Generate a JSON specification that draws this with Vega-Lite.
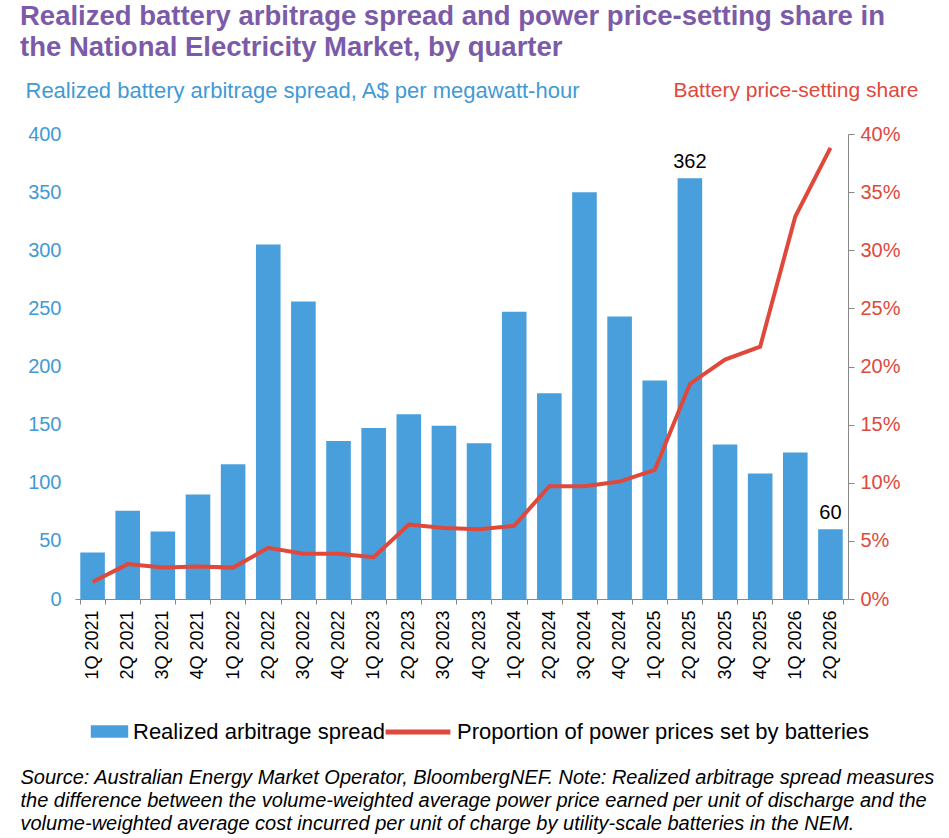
{
  "$schema": "https://vega.github.io/schema/vega-lite/v6.json",
  "width": 773,
  "height": 465,
  "padding": {"left": 20, "top": 2, "right": 10, "bottom": 0},
  "config": {
    "font": "Liberation Sans",
    "view": {"stroke": null},
    "axis": {"grid": false, "domain": false, "ticks": false}
  },
  "title": {
    "text": ["Realized battery arbitrage spread and power price-setting share in", "the National Electricity Market, by quarter"],
    "anchor": "start",
    "frame": "group",
    "dx": -55,
    "offset": 18,
    "fontSize": 27.5,
    "fontWeight": "bold",
    "color": "#7B5BA8",
    "lineHeight": 31
  },
  "data": {
    "values": [
      {"q": "1Q 2021", "spread": 40, "share": 0.0146},
      {"q": "2Q 2021", "spread": 76, "share": 0.030},
      {"q": "3Q 2021", "spread": 58, "share": 0.027},
      {"q": "4Q 2021", "spread": 90, "share": 0.028},
      {"q": "1Q 2022", "spread": 116, "share": 0.027},
      {"q": "2Q 2022", "spread": 305, "share": 0.044},
      {"q": "3Q 2022", "spread": 256, "share": 0.039},
      {"q": "4Q 2022", "spread": 136, "share": 0.039},
      {"q": "1Q 2023", "spread": 147, "share": 0.036},
      {"q": "2Q 2023", "spread": 159, "share": 0.064},
      {"q": "3Q 2023", "spread": 149, "share": 0.061},
      {"q": "4Q 2023", "spread": 134, "share": 0.060},
      {"q": "1Q 2024", "spread": 247, "share": 0.063},
      {"q": "2Q 2024", "spread": 177, "share": 0.097},
      {"q": "3Q 2024", "spread": 350, "share": 0.097},
      {"q": "4Q 2024", "spread": 243, "share": 0.101},
      {"q": "1Q 2025", "spread": 188, "share": 0.111},
      {"q": "2Q 2025", "spread": 362, "share": 0.185, "label": "362"},
      {"q": "3Q 2025", "spread": 133, "share": 0.206},
      {"q": "4Q 2025", "spread": 108, "share": 0.217},
      {"q": "1Q 2026", "spread": 126, "share": 0.329},
      {"q": "2Q 2026", "spread": 60, "share": 0.388, "label": "60"}
    ]
  },
  "encoding": {
    "x": {
      "field": "q", "type": "nominal", "sort": null,
      "scale": {"paddingInner": 0.3, "paddingOuter": 0.15},
      "axis": {
        "domain": true, "domainColor": "#888", "ticks": true, "tickColor": "#888", "tickBand": "extent",
        "labelAngle": -90, "labelFontSize": 18, "labelColor": "#000", "labelPadding": 6,
        "title": ["Source: Australian Energy Market Operator, BloombergNEF. Note: Realized arbitrage spread measures", "the difference between the volume-weighted average power price earned per unit of discharge and the", "volume-weighted average cost incurred per unit of charge by utility-scale batteries in the NEM."],
        "titleFontSize": 20, "titleFontStyle": "italic", "titleFontWeight": "normal", "titleColor": "#000",
        "titleAnchor": "start", "titleAlign": "left", "titleX": -55, "titleLineHeight": 23, "titlePadding": 88
      }
    }
  },
  "layer": [
    {
      "mark": {"type": "bar", "color": "#489FDB"},
      "encoding": {
        "y": {
          "field": "spread", "type": "quantitative",
          "scale": {"domain": [0, 400]},
          "axis": {
            "values": [0, 50, 100, 150, 200, 250, 300, 350, 400],
            "labelFontSize": 20, "labelColor": "#3F9AD6", "labelPadding": 14,
            "title": "Realized battery arbitrage spread, A$ per megawatt-hour",
            "titleAngle": 0, "titleAlign": "left", "titleBaseline": "middle", "titleX": -50, "titleY": -44,
            "titleFontSize": 22, "titleFontWeight": "normal", "titleColor": "#3F9AD6"
          }
        },
        "color": {
          "datum": "Realized arbitrage spread",
          "scale": {"range": ["#489FDB"]},
          "legend": {
            "title": null, "orient": "none", "legendX": 15, "legendY": 578,
            "labelFontSize": 22, "labelColor": "#000", "labelLimit": 400,
            "symbolType": "M-1,-0.33H1V0.33H-1Z", "symbolSize": 1400, "symbolOpacity": 1
          }
        }
      }
    },
    {
      "transform": [{"filter": "isValid(datum.label)"}],
      "mark": {"type": "text", "dy": -16, "fontSize": 20, "color": "#000"},
      "encoding": {
        "y": {"field": "spread", "type": "quantitative", "scale": {"domain": [0, 400]}, "axis": null},
        "text": {"field": "label"}
      }
    },
    {
      "mark": {"type": "line", "color": "#E0483B", "strokeWidth": 4},
      "encoding": {
        "y": {
          "field": "share", "type": "quantitative",
          "scale": {"domain": [0, 0.4]},
          "axis": {
            "orient": "right", "format": ".0%", "values": [0, 0.05, 0.1, 0.15, 0.2, 0.25, 0.3, 0.35, 0.4],
            "domain": true, "domainColor": "#888", "ticks": true, "tickColor": "#888", "tickSize": 6,
            "labelFontSize": 20, "labelColor": "#E0483B", "labelPadding": 6,
            "title": "Battery price-setting share",
            "titleAngle": 0, "titleAlign": "right", "titleBaseline": "middle", "titleX": 70, "titleY": -44,
            "titleFontSize": 21, "titleFontWeight": "normal", "titleColor": "#E0483B"
          }
        },
        "color": {
          "datum": "Proportion of power prices set by batteries",
          "scale": {"range": ["#E0483B"]},
          "legend": {
            "title": null, "orient": "none", "legendX": 308, "legendY": 563,
            "labelFontSize": 22, "labelColor": "#000", "labelLimit": 500,
            "symbolType": "stroke", "symbolStrokeWidth": 5, "symbolSize": 4200
          }
        }
      }
    }
  ],
  "resolve": {"scale": {"y": "independent", "color": "independent"}}
}
